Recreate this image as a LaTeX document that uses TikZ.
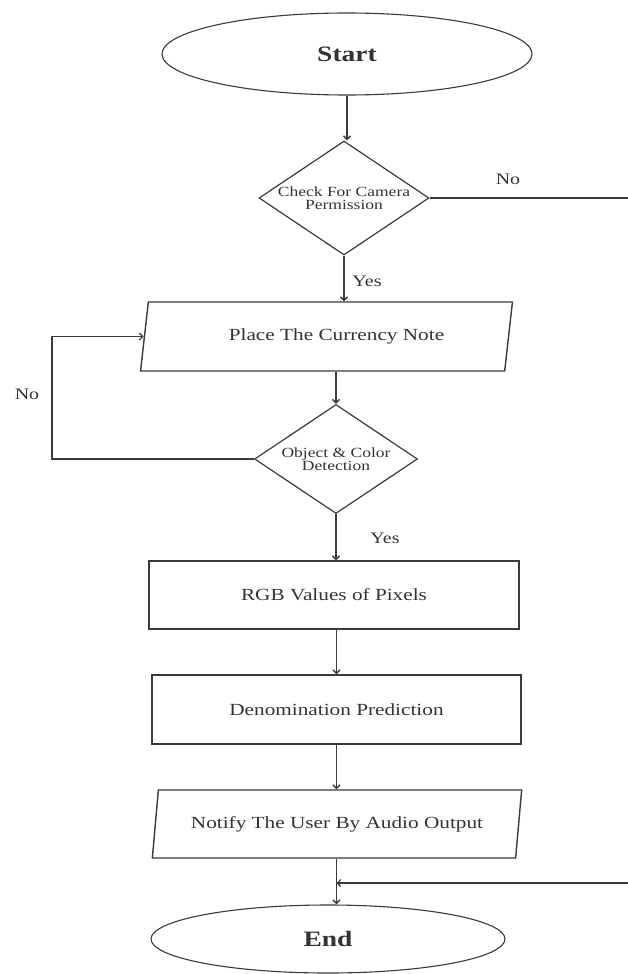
\documentclass[tikz,border=0pt]{standalone}
\usepackage{fontspec}
\setmainfont{Liberation Serif}[FakeStretch=1.25]
\usetikzlibrary{shapes.geometric,arrows.meta}
\definecolor{ink}{HTML}{3A3A3A}
\definecolor{txt}{HTML}{333333}
\tikzset{
  base/.style={draw=ink, line width=1.4pt, inner sep=0pt, text=txt, align=center},
  term/.style={base, ellipse, line width=1.1pt, font=\fontsize{22}{24}\selectfont\bfseries},
  decide/.style={base, diamond, shape aspect=1.5, line width=1.2pt, font=\fontsize{14}{13.5}\selectfont},
  procbox/.style={base, rectangle, font=\fontsize{17}{20}\selectfont},
  iobox/.style={base, trapezium, trapezium stretches=true, font=\fontsize{17}{20}\selectfont},
  lbl/.style={text=txt, inner sep=0pt, font=\fontsize{16}{18}\selectfont},
  conn/.style={draw=ink, line width=1.4pt},
  arr/.style={conn, -{Straight Barb[length=3.5pt,width=7pt]}}
}
\begin{document}
\begin{tikzpicture}[x=1pt,y=-1pt]
\useasboundingbox (0,0) rectangle (628,974);
\node[term, minimum width=370pt, minimum height=82pt] (start) at (347,54) {Start};
\node[decide, minimum width=170pt, minimum height=114pt] (d1) at (344,198) {Check For Camera\\Permission};
\node[iobox, trapezium left angle=71.6, trapezium right angle=108.4, minimum width=373pt, minimum height=69pt] (p1) at (326.5,336.5) {\hspace*{20pt}Place The Currency Note};
\node[decide, minimum width=163pt, minimum height=109pt] (d2) at (336,459) {Object \& Color\\Detection};
\node[procbox, minimum width=370pt, minimum height=68pt] (rgb) at (334,595) {RGB Values of Pixels};
\node[procbox, minimum width=369pt, minimum height=69pt] (den) at (336.5,709.5) {Denomination Prediction};
\node[iobox, trapezium left angle=72.5, trapezium right angle=107.5, minimum width=371pt, minimum height=68pt] (p2) at (337,824) {Notify The User By Audio Output};
\node[term, minimum width=354pt, minimum height=68pt] (end) at (328,939) {End};

\node[lbl] (no1) at (508,179) {No};
\node[lbl] (yes1) at (367,281) {Yes};
\node[lbl] (no2) at (27,394) {No};
\node[lbl] (yes2) at (385,538) {Yes};

\coordinate (r1) at (628,202);
\coordinate (r2) at (628,883);
\coordinate (lx) at (52,0);

\draw[arr] (start.south) -- (start.south |- d1.north);
\draw[arr] (d1.south) -- (d1.south |- p1.north);
\draw[arr] (d2.north |- p1.south) -- (d2.north);
\draw[arr] (d2.south) -- (d2.south |- rgb.north);
\draw[arr] (rgb.south -| den.south) -- (den.north);
\draw[arr] (den.south) -- (den.south |- p2.north);
\draw[arr] (p2.south -| den.south) -- (den.south |- end.north);
\draw[conn] (d1.east) -- (d1.east -| r1);
\draw[arr] (d2.west) -- (d2.west -| lx) |- (p1.left side);
\draw[arr, line width=1.1pt] (r2) -- (r2 -| den.south);
\end{tikzpicture}
\end{document}
